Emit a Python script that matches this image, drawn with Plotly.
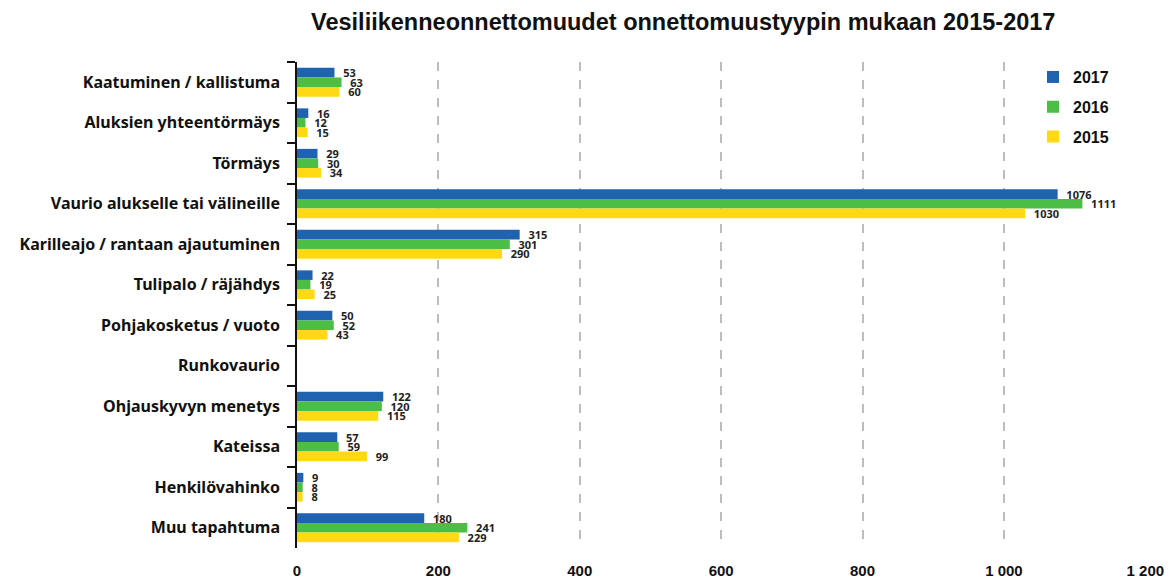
import plotly.graph_objects as go

categories = [
    "Kaatuminen / kallistuma",
    "Aluksien yhteentörmäys",
    "Törmäys",
    "Vaurio alukselle tai välineille",
    "Karilleajo / rantaan ajautuminen",
    "Tulipalo / räjähdys",
    "Pohjakosketus / vuoto",
    "Runkovaurio",
    "Ohjauskyvyn menetys",
    "Kateissa",
    "Henkilövahinko",
    "Muu tapahtuma",
]
v2017 = [53, 16, 29, 1076, 315, 22, 50, None, 122, 57, 9, 180]
v2016 = [63, 12, 30, 1111, 301, 19, 52, None, 120, 59, 8, 241]
v2015 = [60, 15, 34, 1030, 290, 25, 43, None, 115, 99, 8, 229]
series = [("2017", v2017, "#1F63B0"), ("2016", v2016, "#4DBE45"), ("2015", v2015, "#FFD914")]
x_ticks = [0, 200, 400, 600, 800, 1000, 1200]

fig = go.Figure()
for name, vals, col in series:
    fig.add_trace(go.Bar(
        y=categories, x=vals, name=name, orientation="h",
        marker=dict(color=col, line=dict(width=0)),
        text=[("" if v is None else "\u00a0\u00a0" + str(v)) for v in vals],
        textposition="outside", cliponaxis=False, constraintext="none",
        textfont=dict(family="Noto Sans, Arial", size=11, color="#222222", weight="bold"),
        legendgroup=name,
    ))

fig.update_layout(
    width=1174, height=581,
    margin=dict(l=297, r=28, t=62, b=33, autoexpand=False),
    paper_bgcolor="white", plot_bgcolor="white",
    barmode="group", bargap=0.29, bargroupgap=0,
    separators=", ",
    title=dict(text="<b>Vesiliikenneonnettomuudet onnettomuustyypin mukaan 2015-2017</b>",
               x=0.582, xanchor="center", y=0.962, yanchor="middle",
               font=dict(family="Liberation Sans, Arial", size=23.5, color="#111111")),
    legend=dict(x=1033/1174, xref="container", y=1.004, xanchor="left", yanchor="top",
                font=dict(family="Liberation Sans, Arial", size=16, color="#111111", weight="bold"),
                tracegroupgap=6, bgcolor="rgba(0,0,0,0)"),
    showlegend=True,
)
fig.update_xaxes(
    range=[0, 1201], tickvals=x_ticks, tickformat=",d", automargin=False,
    showgrid=True, gridcolor="#BDBDBD", griddash="dash", gridwidth=1.5,
    zeroline=False, showline=False, ticks="",
    ticklabelstandoff=12,
    tickfont=dict(family="Liberation Sans, Arial", size=15, color="#111111", weight="bold"),
)
fig.update_yaxes(
    autorange="reversed", type="category", automargin=False,
    showline=True, linecolor="#111111", linewidth=1.5,
    ticks="outside", tickson="boundaries", ticklen=8, tickcolor="#111111", tickwidth=1.5,
    ticklabelstandoff=12,
    showgrid=False,
    tickfont=dict(family="Noto Sans, Arial", size=16, color="#111111", weight="bold"),
)
fig.write_html("out.html", config={"displayModeBar": False},
               post_script="document.body.style.margin='0';document.body.style.overflow='hidden';")
